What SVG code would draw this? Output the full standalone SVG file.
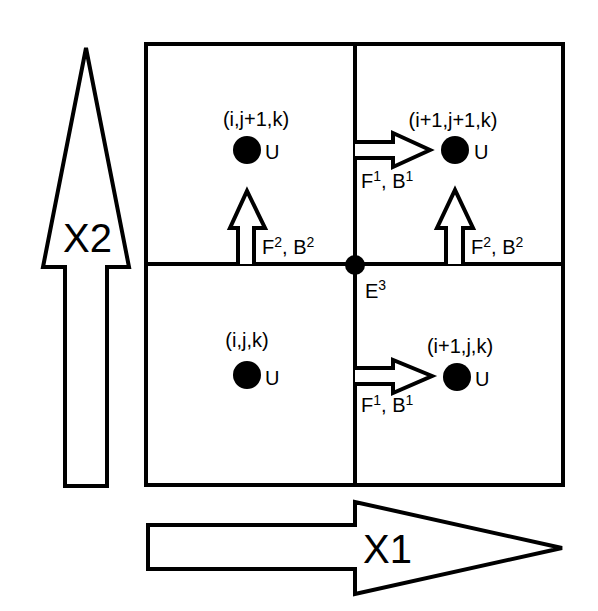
<svg xmlns="http://www.w3.org/2000/svg" width="598" height="611" viewBox="0 0 598 611">
<style>
.ln{fill:none;stroke:#000;stroke-width:4;stroke-linejoin:miter}
.ar{fill:#fff;stroke:#000;stroke-width:4;stroke-linejoin:miter}
.t{font-family:"Liberation Sans",Arial,sans-serif;font-size:20px;fill:#000}
.big{font-family:"Liberation Sans",Arial,sans-serif;font-size:40px;fill:#000}
.sup{font-size:14px}
.dot{fill:#000}
</style>
<rect width="598" height="611" fill="#fff"/>
<g id="grid">
<rect class="ln" x="146" y="44" width="417" height="441"/>
<line class="ln" x1="355" y1="44" x2="355" y2="485"/>
<line class="ln" x1="146" y1="264" x2="563" y2="264"/>
</g>
<g id="axis-x2">
<polygon class="ar" points="86,48 129,267 107,267 107,486 65,486 65,267 43,267"/>
<text class="big" x="63" y="252">X2</text>
</g>
<g id="axis-x1">
<polygon class="ar" points="148,525 355,525 355,502 562,548 355,594 355,569 148,569"/>
<text class="big" x="363" y="563">X1</text>
</g>
<g id="cell-i-j1-k">
<circle class="dot" cx="247" cy="150" r="14"/>
<text class="t" x="256" y="126" text-anchor="middle">(i,j+1,k)</text>
<text class="t" x="265" y="159">U</text>
</g>
<g id="cell-i1-j1-k">
<circle class="dot" cx="455" cy="150" r="14"/>
<text class="t" x="453" y="127" text-anchor="middle">(i+1,j+1,k)</text>
<text class="t" x="474" y="159">U</text>
</g>
<g id="cell-i-j-k">
<circle class="dot" cx="247" cy="375" r="14"/>
<text class="t" x="247" y="347" text-anchor="middle">(i,j,k)</text>
<text class="t" x="265" y="385">U</text>
</g>
<g id="cell-i1-j-k">
<circle class="dot" cx="457" cy="377" r="14"/>
<text class="t" x="460" y="353" text-anchor="middle">(i+1,j,k)</text>
<text class="t" x="475" y="386">U</text>
</g>
<g id="node-E3">
<circle class="dot" cx="355" cy="265" r="10"/>
<text class="t" x="365" y="298">E<tspan class="sup" dy="-8">3</tspan></text>
</g>
<g id="connectors">
<polyline class="ar" points="355,142 393,142 393,133 430,150 393,167 393,158 355,158"/>
<polyline class="ar" points="355,368 393,368 393,360 432,376 393,393 393,384 355,384"/>
<polyline class="ar" points="238,264 238,228 230,228 247,191 265,228 254,228 254,264"/>
<polyline class="ar" points="446,264 446,228 437,228 455,190 473,228 463,228 463,264"/>
<text class="t" x="361" y="188">F<tspan class="sup" dy="-7">1</tspan><tspan dy="7">, B</tspan><tspan class="sup" dy="-7">1</tspan></text>
<text class="t" x="361" y="412">F<tspan class="sup" dy="-7">1</tspan><tspan dy="7">, B</tspan><tspan class="sup" dy="-7">1</tspan></text>
<text class="t" x="262" y="254">F<tspan class="sup" dy="-7">2</tspan><tspan dy="7">, B</tspan><tspan class="sup" dy="-7">2</tspan></text>
<text class="t" x="471" y="254">F<tspan class="sup" dy="-7">2</tspan><tspan dy="7">, B</tspan><tspan class="sup" dy="-7">2</tspan></text>
</g>
</svg>
